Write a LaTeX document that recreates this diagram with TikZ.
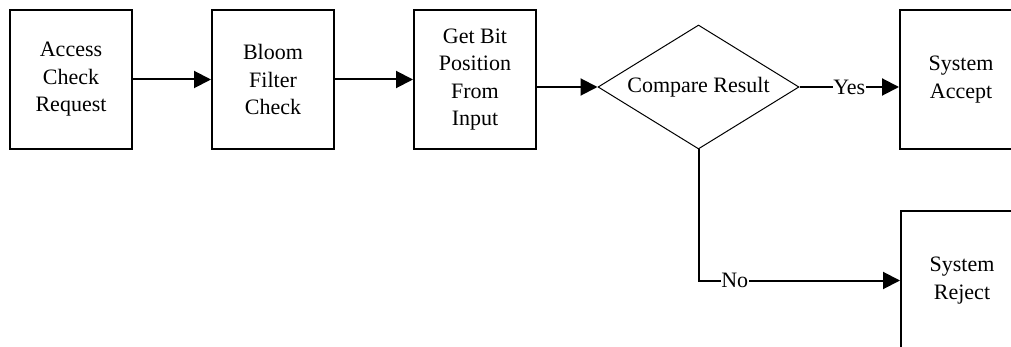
\documentclass[tikz,border=0pt]{standalone}
\usepackage{fontspec}
\setmainfont{Liberation Serif}
\usetikzlibrary{shapes.geometric,arrows.meta}
\begin{document}
\begin{tikzpicture}[x=1pt,y=-1pt,
  every node/.style={font=\fontsize{22}{27.5}\selectfont},
  procbox/.style={draw,line width=2pt,minimum width=122pt,minimum height=139pt,inner sep=0pt,align=center},
  decision/.style={diamond,draw,line width=1pt,minimum width=201pt,minimum height=124pt,inner sep=0pt,aspect=1.62},
  flow/.style={line width=2pt,-{Triangle[length=17pt,width=17pt]}},
  lbl/.style={fill=white,inner sep=0.5pt}]
\useasboundingbox (0,0) rectangle (1011,347);
\clip (0,0) rectangle (1011,347);
\node[procbox] (a) at (71,79.5) {Access\\Check\\Request};
\node[procbox] (b) at (273,79.5) {Bloom\\Filter\\Check};
\node[procbox] (c) at (475,79.5) {Get Bit\\Position\\From\\Input};
\node[decision] (d) at (698.5,87) {Compare Result};
\node[procbox] (e) at (961,79.5) {System\\Accept};
\node[procbox] (f) at (962,280.5) {System\\Reject};
\draw[flow] (a) -- (b);
\draw[flow] (b) -- (c);
\draw[flow] (c.east |- d.west) -- (d.west);
\draw[flow] (d.east) -- node[lbl] {Yes} (d.east -| e.west);
\draw[flow] (d.south) |- node[lbl,pos=0.59] {No} (f.west);
\end{tikzpicture}
\end{document}
